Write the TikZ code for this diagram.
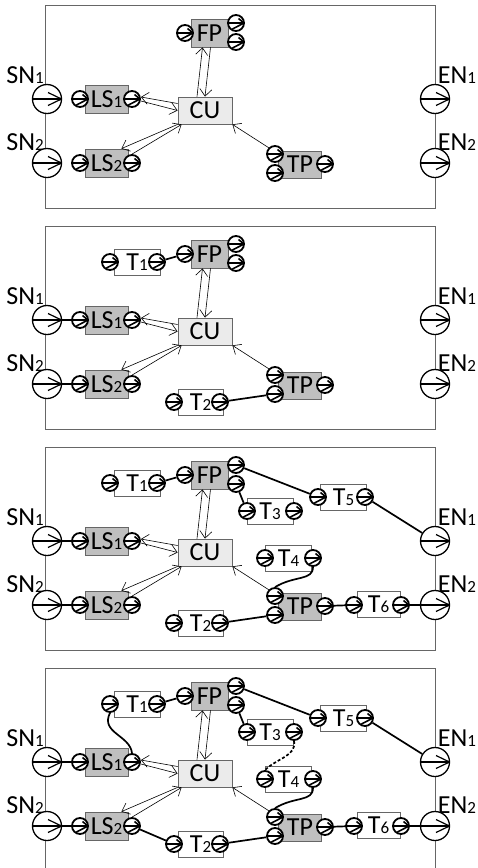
\documentclass[tikz,border=0pt]{standalone}
\usepackage{fontspec}
\setmainfont{Carlito}
\usetikzlibrary{arrows.meta, positioning, calc}

% label font: big letters, small index digit on the base line
\newcommand{\lblfont}{\fontsize{26}{26}\selectfont}
\newcommand{\nm}[2]{#1{\fontsize{17}{17}\selectfont #2}}

\begin{document}
\begin{tikzpicture}[
    x=1pt, y=-1pt,
    >={Straight Barb[length=7pt, width=12pt]},
    frame/.style={draw=black!60, line width=0.9pt},
    lbl/.style={font=\lblfont, inner sep=0pt},
    unit/.style={draw=black!60, line width=0.8pt, inner sep=0pt, font=\lblfont},
    dev/.style={unit, fill=black!25, minimum width=43pt, minimum height=28pt},
    ctrl/.style={unit, fill=black!8, minimum width=54pt, minimum height=27pt},
    task/.style={unit, fill=white, minimum width=46pt, minimum height=26pt},
    port/.style={circle, draw, fill=white, line width=1.8pt, minimum size=16pt, inner sep=0pt,
        path picture={
            \draw[line width=1.6pt] (path picture bounding box.west) -- (path picture bounding box.east);
            \draw[line width=1.6pt] ([shift={(-3.5pt,-6pt)}]path picture bounding box.center)
                -- (path picture bounding box.east)
                -- ([shift={(2.5pt,4.5pt)}]path picture bounding box.center);
        }},
    terminal/.style={circle, draw, fill=white, line width=1.3pt, minimum size=29pt, inner sep=0pt,
        path picture={
            \draw[line width=1.2pt] (path picture bounding box.west) -- (path picture bounding box.east);
            \draw[line width=1.2pt] ([shift={(1pt,6.5pt)}]path picture bounding box.center)
                -- (path picture bounding box.east)
                -- ([shift={(1pt,-6.5pt)}]path picture bounding box.center);
        }},
    ctl/.style={line width=0.6pt, ->},
    link/.style={line width=1.7pt},
]
\useasboundingbox (0,0) rectangle (478,868);
\foreach \p/\oy in {1/5, 2/226, 3/447, 4/668} {
\begin{scope}[shift={(0,\oy)}]
% === Frame, start and end terminals ===
\draw[frame] (45,0) rectangle (435,203);
\node[terminal] (sn1-\p) at (47,94) {};
\node[terminal] (sn2-\p) at (47,158) {};
\node[terminal] (en1-\p) at (435,94) {};
\node[terminal] (en2-\p) at (435,158) {};
\node[lbl] (sn1l-\p) at (25,70) {\nm{SN}{1}};
\node[lbl] (sn2l-\p) at (25,137) {\nm{SN}{2}};
\node[lbl] (en1l-\p) at (457,70) {\nm{EN}{1}};
\node[lbl] (en2l-\p) at (457,137) {\nm{EN}{2}};
% === Fixed units ===
\node[dev] (ls1-\p) at (106.5,94) {\nm{LS}{1}};
\node[dev] (ls2-\p) at (106.5,158) {\nm{LS}{2}};
\node[ctrl] (cu-\p) at (205,105.5) {CU};
\node[dev, minimum width=37pt] (fp-\p) at (209.5,28) {FP};
\node[dev, minimum height=27pt] (tp-\p) at (300,159.5) {TP};
\node[port] (ls1i-\p) at (80,94) {};
\node[port] (ls1o-\p) at (132,94) {};
\node[port] (ls2i-\p) at (80,158) {};
\node[port] (ls2o-\p) at (132,158) {};
\node[port] (fpi-\p) at (185,28) {};
\node[port] (fpo1-\p) at (236,18) {};
\node[port] (fpo2-\p) at (236,37) {};
\node[port] (tpi1-\p) at (275,149) {};
\node[port] (tpi2-\p) at (275,168) {};
\node[port] (tpo-\p) at (325,159) {};
% === Control links of the central unit ===
\draw[ctl] ([yshift=7pt]cu-\p.west) -- ([yshift=2pt]ls1o-\p.east);
\draw[ctl] ([yshift=-2pt]ls1o-\p.east) -- (cu-\p.west);
\draw[ctl] (cu-\p.south west) -- ([xshift=-7pt]ls2-\p.north east);
\draw[ctl] (ls2o-\p.north) -- ([xshift=4pt]cu-\p.south west);
\draw[ctl] ([xshift=-8pt]cu-\p.north) -- ([xshift=-7pt]fp-\p.south);
\draw[ctl] ([xshift=1pt]fp-\p.south) -- (cu-\p.north);
\draw[ctl] (tpi1-\p.north west) -- (cu-\p.south east);
% === Step 2: first tasks ===
\ifnum\p>1
\node[task] (t1-\p) at (137,36) {\nm{T}{1}};
\node[task, minimum width=45pt] (t2-\p) at (200.5,176) {\nm{T}{2}};
\node[port] (t1i-\p) at (110,36) {};
\node[port] (t1o-\p) at (157,36) {};
\node[port] (t2i-\p) at (174,176) {};
\node[port] (t2o-\p) at (220,176) {};
\draw[link] (sn1-\p) -- (ls1i-\p);
\draw[link] (sn2-\p) -- (ls2i-\p);
\draw[link] (t1o-\p) -- (fpi-\p);
\draw[link] (t2o-\p) -- (tpi2-\p);
\fi
% === Step 3: tasks towards the end terminals ===
\ifnum\p>2
\node[task] (t3-\p) at (270,64) {\nm{T}{3}};
\node[task] (t4-\p) at (288.5,111.5) {\nm{T}{4}};
\node[task] (t5-\p) at (343.5,50.5) {\nm{T}{5}};
\node[task, minimum width=43pt] (t6-\p) at (378.5,157.5) {\nm{T}{6}};
\node[port] (t3i-\p) at (247,64) {};
\node[port] (t3o-\p) at (294,64) {};
\node[port] (t4i-\p) at (265,111) {};
\node[port] (t4o-\p) at (313,111) {};
\node[port] (t5i-\p) at (318,50) {};
\node[port] (t5o-\p) at (365,50) {};
\node[port] (t6i-\p) at (354,158) {};
\node[port] (t6o-\p) at (401,158) {};
\draw[link] (fpo1-\p) -- (t5i-\p);
\draw[link] (t5o-\p) -- (en1-\p);
\draw[link] (fpo2-\p) -- (t3i-\p);
\draw[link] (t4o-\p.south) .. controls +(0,14) and +(20,-12) .. (tpi1-\p.north);
\draw[link] (tpo-\p) -- (t6i-\p);
\draw[link] (t6o-\p) -- (en2-\p);
\fi
% === Step 4: closing the chains ===
\ifnum\p>3
\draw[link] (ls1o-\p.north) .. controls +(-2,-18) and +(-10,20) .. (t1i-\p.south);
\draw[link] (ls2o-\p) -- (t2i-\p);
\draw[link, dash pattern=on 3pt off 2pt] (t3o-\p.south) .. controls +(3,15) and +(12,-12) .. (t4i-\p.north);
\fi
\end{scope}
}
\end{tikzpicture}
\end{document}
